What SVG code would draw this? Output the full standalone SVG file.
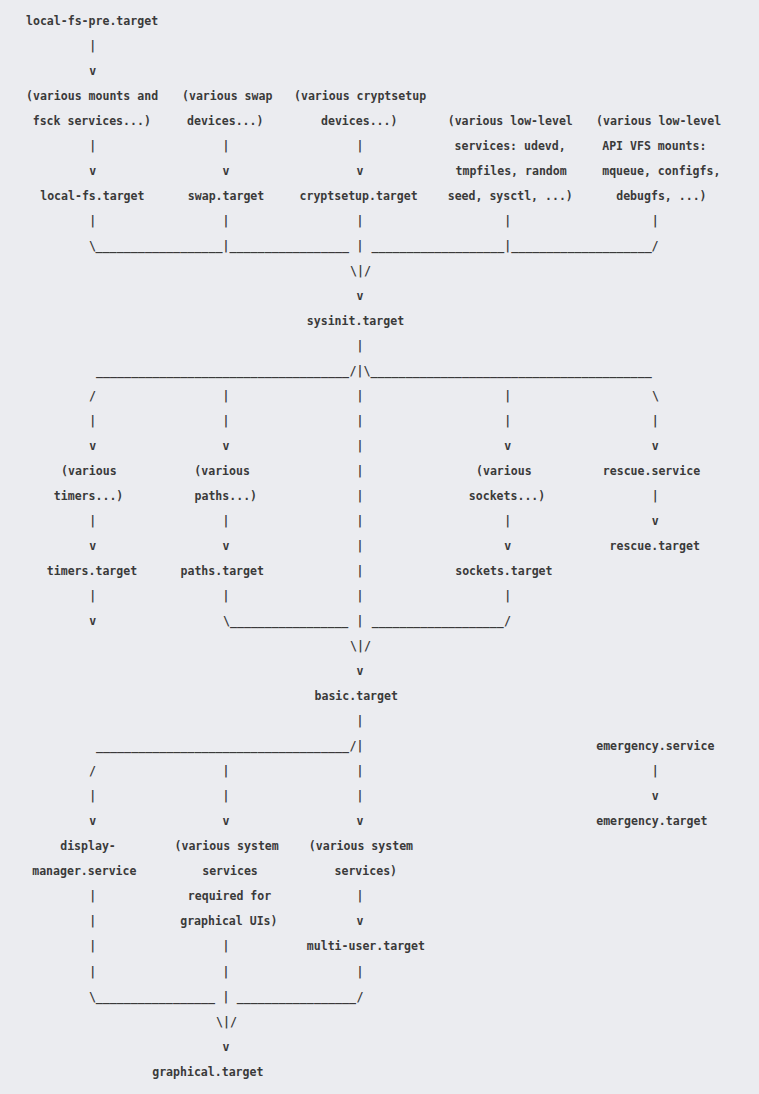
<svg xmlns="http://www.w3.org/2000/svg" width="759" height="1094" viewBox="0 0 759 1094">
<style>
text { font-family: "DejaVu Sans Mono", "Liberation Mono", monospace; font-size: 11.56px; font-weight: bold; fill: #3a3a3a; white-space: pre; }
.c { text-anchor: middle; }
</style>
<rect x="0" y="0" width="759" height="1094" fill="#ebecf0"/>
<g transform="translate(0,0.8)">
<g id="connectors">
  <text class="c" x="92.7" y="49">|</text>
  <text class="c" x="92.7" y="74">v</text>
  <text class="c" x="92.7" y="149.1">|</text><text class="c" x="226" y="149.1">|</text><text class="c" x="360" y="149.1">|</text>
  <text class="c" x="92.7" y="174.1">v</text><text class="c" x="226" y="174.1">v</text><text class="c" x="360" y="174.1">v</text>
  <text class="c" x="92.7" y="224.2">|</text><text class="c" x="226" y="224.2">|</text><text class="c" x="360" y="224.2">|</text><text class="c" x="507.7" y="224.2">|</text><text class="c" x="655.3" y="224.2">|</text>
  <text class="c" x="92.5" y="249.2">\</text>
  <text x="95.5" y="249.2" textLength="127" lengthAdjust="spacingAndGlyphs">__________________</text>
  <text class="c" x="226" y="249.2">|</text>
  <text x="229.5" y="249.2" textLength="119.5" lengthAdjust="spacingAndGlyphs">_________________</text>
  <text class="c" x="360" y="249.2">|</text>
  <text x="371.5" y="249.2" textLength="132.7" lengthAdjust="spacingAndGlyphs">___________________</text>
  <text class="c" x="507.7" y="249.2">|</text>
  <text x="511.2" y="249.2" textLength="140.5" lengthAdjust="spacingAndGlyphs">____________________</text>
  <text class="c" x="655" y="249.2">/</text>
  <text class="c" x="360.5" y="274.2">\|/</text>
  <text class="c" x="360" y="299.2">v</text>
  <text class="c" x="360" y="349.3">|</text>
  <text x="96" y="374.3" textLength="253" lengthAdjust="spacingAndGlyphs">____________________________________</text>
  <text class="c" x="360" y="374.3">/|\</text>
  <text x="370.5" y="374.3" textLength="281.2" lengthAdjust="spacingAndGlyphs">________________________________________</text>
  <text class="c" x="92.5" y="399.3">/</text><text class="c" x="226" y="399.3">|</text><text class="c" x="360" y="399.3">|</text><text class="c" x="507.7" y="399.3">|</text><text class="c" x="655.5" y="399.3">\</text>
  <text class="c" x="92.7" y="424.3">|</text><text class="c" x="226" y="424.3">|</text><text class="c" x="360" y="424.3">|</text><text class="c" x="507.7" y="424.3">|</text><text class="c" x="655.3" y="424.3">|</text>
  <text class="c" x="92.7" y="449.3">v</text><text class="c" x="226" y="449.3">v</text><text class="c" x="360" y="449.3">|</text><text class="c" x="507.7" y="449.3">v</text><text class="c" x="655.3" y="449.3">v</text>
  <text class="c" x="360" y="474.4">|</text>
  <text class="c" x="360" y="499.4">|</text><text class="c" x="655.3" y="499.4">|</text>
  <text class="c" x="92.7" y="524.4">|</text><text class="c" x="226" y="524.4">|</text><text class="c" x="360" y="524.4">|</text><text class="c" x="507.7" y="524.4">|</text><text class="c" x="655.3" y="524.4">v</text>
  <text class="c" x="92.7" y="549.4">v</text><text class="c" x="226" y="549.4">v</text><text class="c" x="360" y="549.4">|</text><text class="c" x="507.7" y="549.4">v</text>
  <text class="c" x="360" y="574.4">|</text>
  <text class="c" x="92.7" y="599.5">|</text><text class="c" x="226" y="599.5">|</text><text class="c" x="360" y="599.5">|</text><text class="c" x="507.7" y="599.5">|</text>
  <text class="c" x="92.7" y="624.5">v</text>
  <text class="c" x="226.5" y="624.5">\</text>
  <text x="230" y="624.5" textLength="118.3" lengthAdjust="spacingAndGlyphs">_________________</text>
  <text class="c" x="360" y="624.5">|</text>
  <text x="371.7" y="624.5" textLength="132" lengthAdjust="spacingAndGlyphs">___________________</text>
  <text class="c" x="507.5" y="624.5">/</text>
  <text class="c" x="360.5" y="649.5">\|/</text>
  <text class="c" x="360" y="674.5">v</text>
  <text class="c" x="360" y="724.6">|</text>
  <text x="96" y="749.6" textLength="253" lengthAdjust="spacingAndGlyphs">____________________________________</text>
  <text class="c" x="353" y="749.6">/</text><text class="c" x="360" y="749.6">|</text>
  <text class="c" x="92.5" y="774.6">/</text><text class="c" x="226" y="774.6">|</text><text class="c" x="360" y="774.6">|</text><text class="c" x="655.3" y="774.6">|</text>
  <text class="c" x="92.7" y="799.6">|</text><text class="c" x="226" y="799.6">|</text><text class="c" x="360" y="799.6">|</text><text class="c" x="655.3" y="799.6">v</text>
  <text class="c" x="92.7" y="824.6">v</text><text class="c" x="226" y="824.6">v</text><text class="c" x="360" y="824.6">v</text>
  <text class="c" x="92.7" y="899.7">|</text><text class="c" x="360" y="899.7">|</text>
  <text class="c" x="92.7" y="924.7">|</text><text class="c" x="360" y="924.7">v</text>
  <text class="c" x="92.7" y="949.7">|</text><text class="c" x="226" y="949.7">|</text>
  <text class="c" x="92.7" y="974.8">|</text><text class="c" x="226" y="974.8">|</text><text class="c" x="360" y="974.8">|</text>
  <text class="c" x="92.5" y="999.8">\</text>
  <text x="95.7" y="999.8" textLength="119.3" lengthAdjust="spacingAndGlyphs">_________________</text>
  <text class="c" x="226" y="999.8">|</text>
  <text x="236.7" y="999.8" textLength="119.3" lengthAdjust="spacingAndGlyphs">_________________</text>
  <text class="c" x="360" y="999.8">/</text>
  <text class="c" x="226.5" y="1024.8">\|/</text>
  <text class="c" x="226" y="1049.8">v</text>
</g>
<g id="local-fs-pre"><text x="26" y="24">local-fs-pre.target</text></g>
<g id="mounts-fsck"><text x="26" y="99.1">(various mounts and</text><text x="32.7" y="124.1">fsck services...)</text></g>
<g id="swap-devices"><text x="182" y="99.1">(various swap</text><text x="187" y="124.1">devices...)</text></g>
<g id="cryptsetup-devices"><text x="294" y="99.1">(various cryptsetup</text><text x="321" y="124.1">devices...)</text></g>
<g id="low-level-services"><text x="447.7" y="124.1">(various low-level</text><text x="454.5" y="149.1">services: udevd,</text><text x="455.5" y="174.1">tmpfiles, random</text><text x="447.7" y="199.1">seed, sysctl, ...)</text></g>
<g id="api-vfs-mounts"><text x="596" y="124.1">(various low-level</text><text x="602.2" y="149.1">API VFS mounts:</text><text x="602.2" y="174.1">mqueue, configfs,</text><text x="616.2" y="199.1">debugfs, ...)</text></g>
<g id="local-fs"><text x="40.2" y="199.1">local-fs.target</text></g>
<g id="swap"><text x="187.8" y="199.1">swap.target</text></g>
<g id="cryptsetup"><text x="299.5" y="199.1">cryptsetup.target</text></g>
<g id="sysinit"><text x="306.8" y="324.2">sysinit.target</text></g>
<g id="various-timers"><text x="61" y="474.4">(various</text><text x="53.8" y="499.4">timers...)</text></g>
<g id="various-paths"><text x="194.3" y="474.4">(various</text><text x="194.5" y="499.4">paths...)</text></g>
<g id="various-sockets"><text x="476" y="474.4">(various</text><text x="468.8" y="499.4">sockets...)</text></g>
<g id="rescue-service"><text x="602.8" y="474.4">rescue.service</text></g>
<g id="rescue"><text x="609.5" y="549.4">rescue.target</text></g>
<g id="timers"><text x="46.8" y="574.4">timers.target</text></g>
<g id="paths"><text x="180.5" y="574.4">paths.target</text></g>
<g id="sockets"><text x="455.2" y="574.4">sockets.target</text></g>
<g id="basic"><text x="314.5" y="699.5">basic.target</text></g>
<g id="emergency-service"><text x="596.2" y="749.6">emergency.service</text></g>
<g id="emergency"><text x="596.2" y="824.6">emergency.target</text></g>
<g id="display-manager"><text x="60.2" y="849.7">display-</text><text x="32.2" y="874.7">manager.service</text></g>
<g id="graphical-services"><text x="174.5" y="849.7">(various system</text><text x="202.2" y="874.7">services</text><text x="187.8" y="899.7">required for</text><text x="180.2" y="924.7">graphical UIs)</text></g>
<g id="system-services"><text x="308.8" y="849.7">(various system</text><text x="334.5" y="874.7">services)</text></g>
<g id="multi-user"><text x="306.8" y="949.7">multi-user.target</text></g>
<g id="graphical"><text x="152.2" y="1074.8">graphical.target</text></g>
</g>
</svg>
